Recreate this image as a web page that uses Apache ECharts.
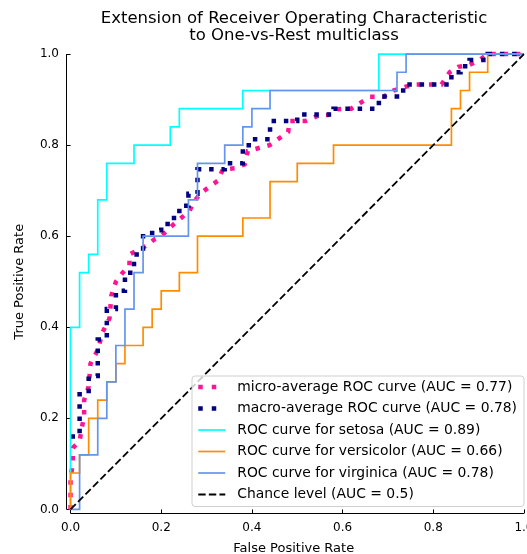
<!DOCTYPE html>
<html>
<head>
<meta charset="utf-8">
<script src="https://cdn.jsdelivr.net/npm/echarts@6/dist/echarts.min.js"></script>
<style>
  html, body { margin: 0; padding: 0; background: #fff; }
  #chart { width: 527px; height: 554px; }
</style>
</head>
<body>
<div id="chart"></div>
<script>
// values: false positive rate / true positive rate
var ticks = [0, 0.2, 0.4, 0.6, 0.8, 1.0];

var microFpr = [0, 0, 0, 0.005, 0.005, 0.02, 0.025, 0.03, 0.03, 0.04, 0.044, 0.06, 0.071, 0.086, 0.09,
    0.1, 0.115, 0.13, 0.13, 0.16, 0.185, 0.2, 0.226, 0.244, 0.262, 0.272, 0.288, 0.307, 0.325, 0.336,
    0.362, 0.384, 0.391, 0.439, 0.46, 0.48, 0.483, 0.518, 0.549, 0.568, 0.59, 0.619, 0.641, 0.66, 0.69,
    0.712, 0.737, 0.763, 0.818, 0.836, 0.855, 0.88, 0.902, 0.92, 1];
var microTpr = [0, 0.04, 0.07, 0.10, 0.135, 0.15, 0.18, 0.205, 0.24, 0.27, 0.32, 0.35, 0.39, 0.42, 0.47,
    0.50, 0.52, 0.535, 0.56, 0.575, 0.593, 0.60, 0.625, 0.64, 0.655, 0.676, 0.695, 0.709, 0.722, 0.747,
    0.749, 0.758, 0.787, 0.80, 0.815, 0.829, 0.853, 0.853, 0.866, 0.866, 0.879, 0.88, 0.894, 0.906, 0.906,
    0.92, 0.928, 0.933, 0.933, 0.96, 0.972, 0.976, 0.987, 1.0, 1.0];

var macroFpr = [0, 0.02, 0.02, 0.04, 0.04, 0.06, 0.06, 0.08, 0.08, 0.10, 0.10, 0.12, 0.12, 0.14, 0.14,
    0.16, 0.16, 0.18, 0.18, 0.20, 0.20, 0.22, 0.22, 0.24, 0.24, 0.26, 0.26, 0.28, 0.28, 0.34, 0.34,
    0.38, 0.38, 0.40, 0.40, 0.44, 0.44, 0.50, 0.50, 0.58, 0.58, 0.68, 0.68, 0.72, 0.72, 0.74, 0.74,
    0.84, 0.84, 0.86, 0.86, 0.88, 0.88, 0.92, 0.92, 1.0];
var macroTpr = [0.16, 0.16, 0.253, 0.253, 0.293, 0.293, 0.373, 0.373, 0.44, 0.44, 0.48, 0.48, 0.52, 0.52, 0.56,
    0.56, 0.60, 0.60, 0.613, 0.613, 0.627, 0.627, 0.64, 0.64, 0.667, 0.667, 0.693, 0.693, 0.747, 0.747, 0.76,
    0.76, 0.80, 0.80, 0.813, 0.813, 0.853, 0.853, 0.867, 0.867, 0.88, 0.88, 0.907, 0.907, 0.92, 0.92, 0.933,
    0.933, 0.96, 0.96, 0.973, 0.973, 0.987, 0.987, 1.0, 1.0];

var setosaFpr = [0, 0, 0.02, 0.02, 0.04, 0.04, 0.06, 0.06, 0.08, 0.08, 0.14, 0.14, 0.22, 0.22, 0.24, 0.24,
    0.38, 0.38, 0.68, 0.68, 1];
var setosaTpr = [0, 0.40, 0.40, 0.52, 0.52, 0.56, 0.56, 0.68, 0.68, 0.76, 0.76, 0.80, 0.80, 0.84, 0.84, 0.88,
    0.88, 0.92, 0.92, 1.0, 1.0];

var versicolorFpr = [0, 0, 0.02, 0.02, 0.04, 0.04, 0.06, 0.06, 0.08, 0.08, 0.10, 0.10, 0.12, 0.12, 0.16, 0.16,
    0.18, 0.18, 0.20, 0.20, 0.24, 0.24, 0.28, 0.28, 0.38, 0.38, 0.44, 0.44, 0.50, 0.50, 0.58, 0.58,
    0.84, 0.84, 0.86, 0.86, 0.88, 0.88, 0.92, 0.92, 1];
var versicolorTpr = [0, 0.08, 0.08, 0.12, 0.12, 0.20, 0.20, 0.24, 0.24, 0.28, 0.28, 0.32, 0.32, 0.36, 0.36, 0.40,
    0.40, 0.44, 0.44, 0.48, 0.48, 0.52, 0.52, 0.60, 0.60, 0.64, 0.64, 0.72, 0.72, 0.76, 0.76, 0.80,
    0.80, 0.88, 0.88, 0.92, 0.92, 0.96, 0.96, 1.0, 1.0];

var virginicaFpr = [0, 0.02, 0.02, 0.06, 0.06, 0.08, 0.08, 0.10, 0.10, 0.12, 0.12, 0.14, 0.14, 0.16, 0.16,
    0.26, 0.26, 0.28, 0.28, 0.34, 0.34, 0.38, 0.38, 0.40, 0.40, 0.44, 0.44, 0.72, 0.72, 0.74, 0.74, 1];
var virginicaTpr = [0, 0, 0.12, 0.12, 0.20, 0.20, 0.28, 0.28, 0.36, 0.36, 0.44, 0.44, 0.52, 0.52, 0.60,
    0.60, 0.68, 0.68, 0.76, 0.76, 0.80, 0.80, 0.84, 0.84, 0.88, 0.88, 0.92, 0.92, 0.96, 0.96, 1.0, 1.0];

var chanceFpr = [0, 1];
var chanceTpr = [0, 1];

var names = [
    'micro-average ROC curve (AUC = 0.77)',
    'macro-average ROC curve (AUC = 0.78)',
    'ROC curve for setosa (AUC = 0.89)',
    'ROC curve for versicolor (AUC = 0.66)',
    'ROC curve for virginica (AUC = 0.78)',
    'Chance level (AUC = 0.5)'
];

function pairs(xs, ys) {
    return xs.map(function (x, i) { return [x, ys[i]]; });
}

var font = 'DejaVu Sans';
var chart = echarts.init(document.getElementById('chart'));

function curve(name, xs, ys, color, width, dash) {
    return {
        name: name,
        type: 'line',
        data: pairs(xs, ys),
        symbol: 'none',
        animation: false,
        lineStyle: {color: color, width: width, type: dash || 'solid', cap: 'butt', join: 'miter'},
        itemStyle: {color: color}
    };
}

var option = {
    animation: false,
    grid: {left: 66, top: 49.5, width: 462.5, height: 464.5, outerBoundsMode: 'none'},
    xAxis: {
        type: 'value',
        min: -0.01,
        max: 1.01,
        name: 'False Positive Rate',
        nameLocation: 'middle',
        nameGap: 28,
        nameTextStyle: {fontFamily: font, fontSize: 13, color: '#000', padding: [0, 7, 0, 0]},
        axisLine: {show: false},
        splitLine: {show: false},
        axisTick: {show: true, length: 4, customValues: ticks, lineStyle: {color: '#000', width: 1}},
        axisLabel: {
            customValues: ticks, margin: 8, color: '#000', fontFamily: font, fontSize: 12,
            formatter: function (v) { return v.toFixed(1); }
        }
    },
    yAxis: {
        type: 'value',
        min: -0.01,
        max: 1.01,
        name: 'True Positive Rate',
        nameLocation: 'middle',
        nameGap: 40,
        nameTextStyle: {fontFamily: font, fontSize: 13, color: '#000'},
        axisLine: {show: false},
        splitLine: {show: false},
        axisTick: {show: true, length: 4, customValues: ticks, lineStyle: {color: '#000', width: 1}},
        axisLabel: {
            customValues: ticks, margin: 7, color: '#000', fontFamily: font, fontSize: 12,
            formatter: function (v) { return v.toFixed(1); }
        }
    },
    legend: {
        orient: 'vertical',
        left: 192,
        top: 376,
        padding: [3, 7, 4, 4],
        itemGap: 5.5,
        itemWidth: 27,
        itemHeight: 2,
        itemStyle: {opacity: 0},
        backgroundColor: 'rgba(255,255,255,0.8)',
        borderColor: '#d0d0d0',
        borderWidth: 1,
        borderRadius: 3,
        textStyle: {fontFamily: font, fontSize: 13.9, color: '#000', lineHeight: 16, padding: [0, 0, 0, 7]},
        data: [
            {name: names[0], lineStyle: {width: 4.5, type: [4.5, 9]}},
            {name: names[1], lineStyle: {width: 4.5, type: [4.5, 9]}},
            {name: names[2], lineStyle: {width: 1.7}},
            {name: names[3], lineStyle: {width: 1.7}},
            {name: names[4], lineStyle: {width: 1.7}},
            {name: names[5], lineStyle: {width: 1.8}}
        ]
    },
    series: [
        curve(names[0], microFpr, microTpr, '#ff1493', 4.5, [4.5, 7.8]),
        curve(names[1], macroFpr, macroTpr, '#000080', 4.5, [4.5, 7.8]),
        curve(names[2], setosaFpr, setosaTpr, '#00ffff', 1.7),
        curve(names[3], versicolorFpr, versicolorTpr, '#ff8c00', 1.7),
        curve(names[4], virginicaFpr, virginicaTpr, '#6495ed', 1.7),
        curve(names[5], chanceFpr, chanceTpr, '#000000', 1.8, [7.4, 3.2])
    ]
};
chart.setOption(option);

// bounded spines (left and bottom only, spanning 0..1) plus the two-line title
var origin = chart.convertToPixel({gridIndex: 0}, [0, 0]);
var corner = chart.convertToPixel({gridIndex: 0}, [1, 1]);
var edge = chart.convertToPixel({gridIndex: 0}, [-0.01, -0.01]);
var sx = Math.round(edge[0]) + 0.5;
var sy = Math.round(edge[1]) - 0.5;
chart.setOption({
    graphic: [
        {type: 'line', silent: true, shape: {x1: sx, y1: origin[1], x2: sx, y2: corner[1]},
            style: {stroke: '#000', lineWidth: 1}},
        {type: 'line', silent: true, shape: {x1: origin[0], y1: sy, x2: corner[0], y2: sy},
            style: {stroke: '#000', lineWidth: 1}},
        {type: 'text', x: 294, y: 19, silent: true,
            style: {text: 'Extension of Receiver Operating Characteristic', fontFamily: font, fontSize: 16.5,
                fill: '#000', textAlign: 'center', textVerticalAlign: 'middle'}},
        {type: 'text', x: 294, y: 36, silent: true,
            style: {text: 'to One-vs-Rest multiclass', fontFamily: font, fontSize: 16.5,
                fill: '#000', textAlign: 'center', textVerticalAlign: 'middle'}}
    ]
});
</script>
</body>
</html>
